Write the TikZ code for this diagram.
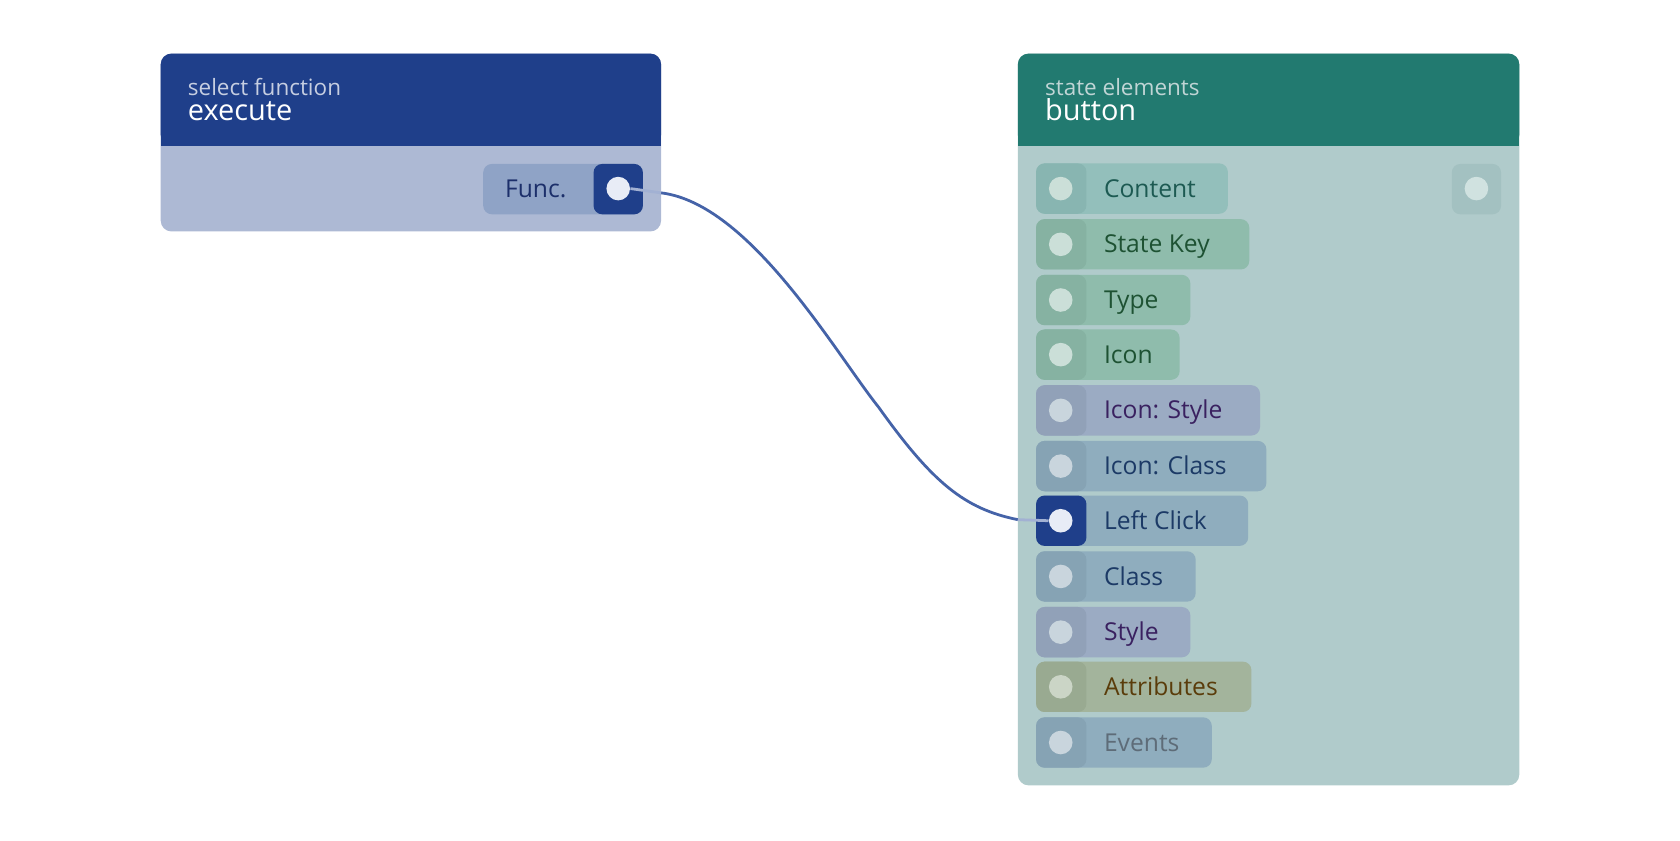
\documentclass[tikz,border=0pt]{standalone}
\usepackage{fontspec}
\setmainfont{Open Sans}
\begin{document}
\begin{tikzpicture}[x=0.5pt,y=-0.5pt,
  pill/.style={rounded corners=4pt},
  lbl/.style={anchor=base west,font=\fontsize{11.5}{12}\selectfont,inner sep=0pt},
  dot/.style={circle,fill=#1,minimum size=11pt,inner sep=0pt}]
\definecolor{hblue}{HTML}{1F3F8A}\definecolor{bblue}{HTML}{ADB9D4}
\definecolor{hgreen}{HTML}{227A70}\definecolor{bgreen}{HTML}{B0CBCB}
\definecolor{wire}{HTML}{4563A8}
\definecolor{fpill}{HTML}{8FA3C6}\definecolor{wdot}{HTML}{E8ECF6}
\definecolor{rpill}{HTML}{A3C1C1}\definecolor{rdot}{HTML}{D0E2E0}
\definecolor{pC}{HTML}{93BFBB}\definecolor{sC}{HTML}{88B5B1}
\definecolor{pG}{HTML}{8FBCAC}\definecolor{sG}{HTML}{86B2A2}
\definecolor{pP}{HTML}{9BABC3}\definecolor{sP}{HTML}{91A1B8}
\definecolor{pB}{HTML}{8FADBE}\definecolor{sB}{HTML}{86A3B4}
\definecolor{pY}{HTML}{A3B49C}\definecolor{sY}{HTML}{99AA91}
\definecolor{dG}{HTML}{CBDFD8}\definecolor{dB}{HTML}{C9D5DD}\definecolor{dY}{HTML}{CBD5C6}
\definecolor{tC}{HTML}{1D5A52}\definecolor{tG}{HTML}{1E5233}\definecolor{tP}{HTML}{3A2160}
\definecolor{tB}{HTML}{1C3A66}\definecolor{tY}{HTML}{5A3C0A}\definecolor{tE}{HTML}{5E6C78}
\definecolor{tF}{HTML}{1C2F6A}
\useasboundingbox (0,0) rectangle (1568,784);
% left node
\fill[bblue,rounded corners=5pt] (150,50) rectangle (617,216);
\fill[hblue,rounded corners=5pt] (150,50) rectangle (617,136);
\fill[hblue] (150,110) rectangle (617,136);
\node[anchor=base west,inner sep=0pt,text=bblue!70!white,font=\fontsize{10.5}{11}\selectfont] (t1) at (175,89) {select function};
\node[anchor=base west,inner sep=0pt,text=white,font=\fontsize{13.5}{14}\selectfont] (t2) at (175,112) {execute};
\fill[pill,fill=fpill] (451,153) rectangle (600,200);
\node[lbl,text=tF] (func) at (471,184) {Func.};
\fill[pill,fill=hblue] (554,153) rectangle (600,200);
\node[dot=wdot] (out) at (577,176) {};
% right node
\fill[bgreen,rounded corners=5pt] (950,50) rectangle (1418,733);
\fill[hgreen,rounded corners=5pt] (950,50) rectangle (1418,136);
\fill[hgreen] (950,110) rectangle (1418,136);
\node[anchor=base west,inner sep=0pt,text=bgreen!80!white,font=\fontsize{10.5}{11}\selectfont] (t3) at (975,89) {state elements};
\node[anchor=base west,inner sep=0pt,text=white,font=\fontsize{13.5}{14}\selectfont] (t4) at (975,112) {button};
\fill[pill,fill=rpill] (1355,153) rectangle (1401,200);
\node[dot=rdot] (ro) at (1378,176) {};
\def\row#1#2#3#4#5#6#7#8{%
  \fill[pill,fill=#4] (967,#1-23.5) rectangle (#3,#1+23.5);
  \fill[pill,fill=#5] (967,#1-23.5) rectangle (1014,#1+23.5);
  \node[dot=#7] (s#8) at (990,#1) {};
  \node[lbl,text=#6] (l#8) at (1030,#1+8) {#2};}
\row{176}{Content}{1146}{pC}{sC}{tC}{dG}{a}
\row{228}{State Key}{1166}{pG}{sG}{tG}{dG}{b}
\row{280}{Type}{1111}{pG}{sG}{tG}{dG}{c}
\row{331}{Icon}{1101}{pG}{sG}{tG}{dG}{d}
\row{383}{Icon: Style}{1176}{pP}{sP}{tP}{dB}{e}
\row{435}{Icon: Class}{1182}{pB}{sB}{tB}{dB}{f}
\row{486}{Left Click}{1165}{pB}{hblue}{tB}{wdot}{g}
\row{538}{Class}{1116}{pB}{sB}{tB}{dB}{h}
\row{590}{Style}{1111}{pP}{sP}{tP}{dB}{i}
\row{641}{Attributes}{1168}{pY}{sY}{tY}{dY}{j}
\row{693}{Events}{1131}{pB}{sB}{tE}{dB}{k}
\coordinate (w1) at (617,180);
\coordinate (w2) at (950,485);
\draw[wire,line width=1.3pt] (w1) .. controls (700,190) and (780,330) .. (820,380) .. controls (870,450) and (900,475) .. (w2);
\draw[wire!50!white,line width=1.3pt] (out.east) -- (w1);
\draw[wire!50!white,line width=1.3pt] (w2) -- (sg.west);
\end{tikzpicture}
\end{document}
